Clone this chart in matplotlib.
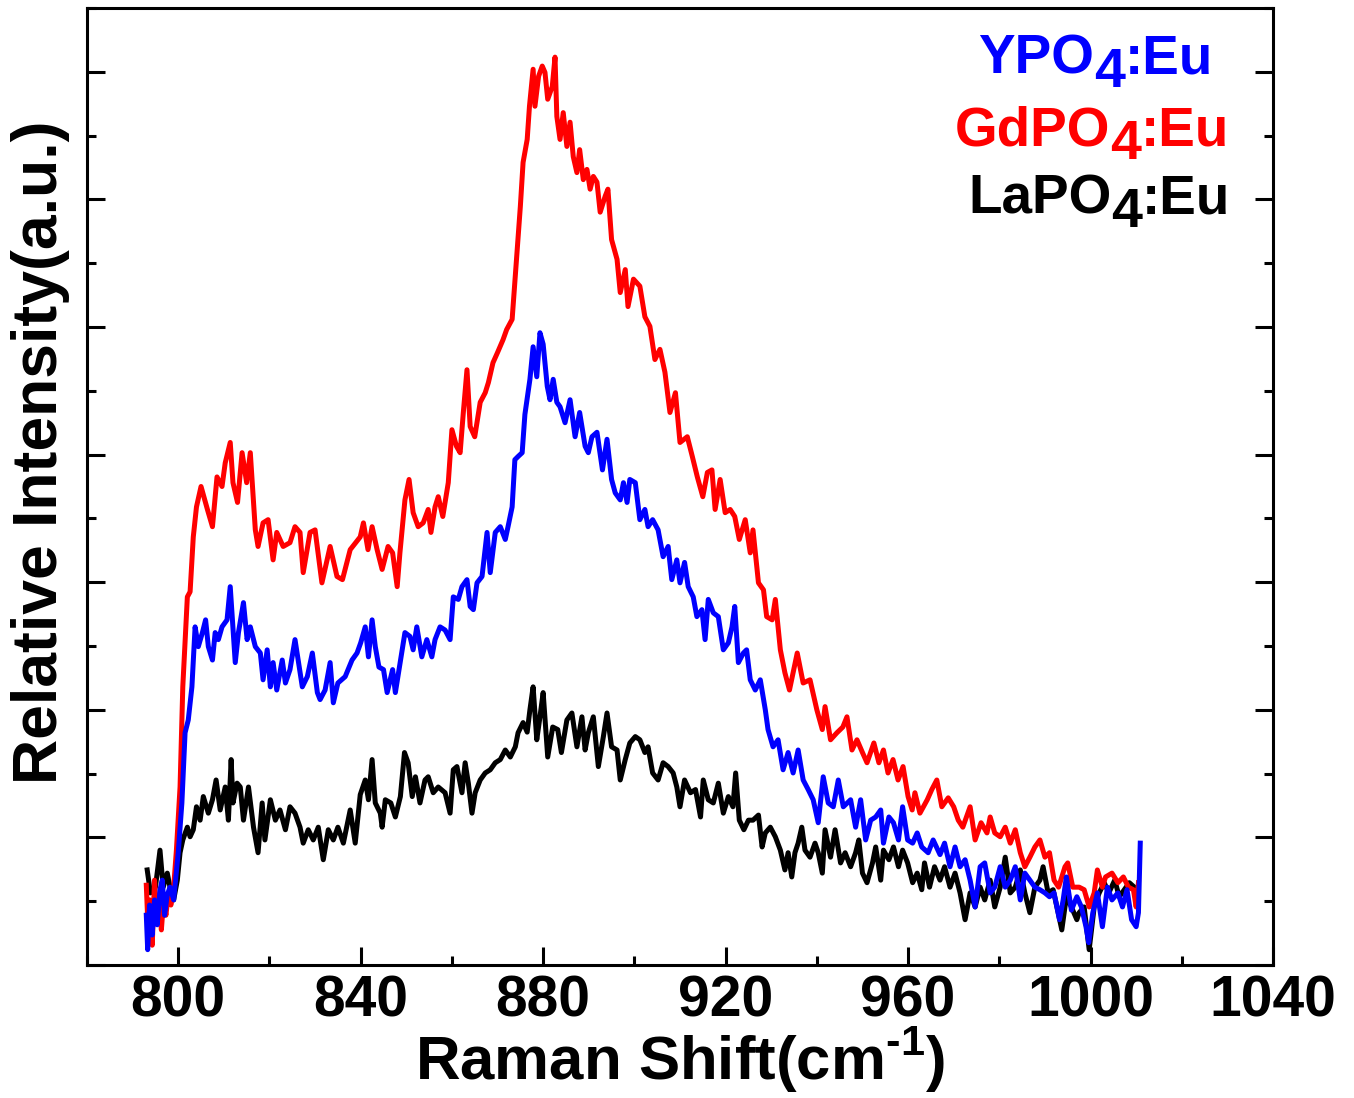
import matplotlib
matplotlib.use("Agg")
import matplotlib.pyplot as plt
from matplotlib.ticker import MultipleLocator

plt.rcParams['font.family'] = ['Liberation Sans', 'DejaVu Sans']
plt.rcParams['font.weight'] = 'bold'
plt.rcParams['mathtext.fontset'] = 'custom'
plt.rcParams['mathtext.rm'] = 'Liberation Sans:bold'
plt.rcParams['mathtext.bf'] = 'Liberation Sans:bold'

# Raman spectra: (wavenumber cm-1, relative intensity a.u.)
gdpo4_pts = [
    (793.0,1.25),(793.4,0.55),(793.8,1.02),(794.3,0.31),(794.8,1.33),(795.3,0.71),(795.8,1.10),(796.3,0.55),
    (796.8,1.02),(797.3,0.78),(797.8,1.10),(798.4,0.94),(799.0,1.22),(799.6,1.80),(800.4,2.79),(801.0,4.36),
    (802.0,5.77),(802.6,5.85),(803.3,6.71),(804.0,7.18),(805.0,7.50),(806.4,7.14),(807.5,6.87),(808.5,7.65),
    (809.6,7.50),(810.3,7.87),(811.4,8.19),(812.0,7.56),(813.0,7.25),(814.0,8.03),(815.0,7.56),(815.8,8.03),
    (816.9,6.82),(817.5,6.56),(818.6,6.93),(819.7,6.98),(820.8,6.35),(821.6,6.78),(823.0,6.56),(824.5,6.62),
    (825.6,6.87),(826.7,6.78),(827.4,6.15),(828.9,6.78),(830.0,6.82),(831.5,5.99),(833.3,6.56),(834.8,6.09),
    (836.0,6.04),(837.7,6.51),(839.9,6.71),(840.6,6.93),(841.6,6.51),(842.5,6.87),(843.6,6.51),(844.7,6.20),
    (846.0,6.56),(847.0,6.46),(848.0,5.93),(848.6,6.46),(849.7,7.29),(850.6,7.61),(851.5,7.09),(852.6,6.87),
    (853.7,6.93),(854.8,7.14),(855.4,6.78),(856.3,7.18),(857.0,7.34),(858.0,7.03),(859.2,7.56),(860.0,8.39),
    (861.0,8.13),(861.8,8.03),(862.5,8.66),(863.3,9.33),(864.0,8.44),(865.0,8.28),(866.2,8.82),(867.3,8.97),
    (868.0,9.13),(869.0,9.44),(870.0,9.60),(871.2,9.80),(872.0,9.96),(873.2,10.12),(874.0,10.90),(875.0,11.89),
    (875.6,12.58),(876.5,12.94),(877.0,13.46),(877.8,14.04),(878.2,13.46),(879.0,13.93),(879.8,14.09),(880.4,13.99),
    (881.0,13.57),(882.0,13.77),(882.6,14.23),(883.0,13.30),(883.7,12.94),(884.4,13.36),(885.2,12.83),(885.9,13.21),
    (886.6,12.67),(887.4,12.42),(888.0,12.78),(888.8,12.31),(889.6,12.47),(890.3,12.16),(891.0,12.36),(891.8,12.27),
    (892.5,11.80),(893.6,12.05),(894.2,12.16),(895.0,11.37),(896.2,11.06),(896.9,10.54),(898.0,10.90),(898.6,10.32),
    (899.8,10.75),(901.2,10.64),(902.3,10.16),(903.4,10.01),(904.5,9.49),(905.6,9.65),(906.7,9.29),(907.8,8.66),
    (909.0,8.97),(910.0,8.19),(911.6,8.28),(912.7,7.97),(913.8,7.65),(915.0,7.34),(916.0,7.72),(917.0,7.76),
    (917.7,7.14),(918.8,7.61),(919.9,7.09),(921.0,7.14),(922.0,7.03),(923.0,6.67),(924.3,6.98),(925.4,6.46),
    (926.0,6.82),(927.2,5.99),(928.3,5.88),(929.0,5.46),(930.2,5.41),(930.9,5.73),(932.0,4.94),(933.0,4.58),
    (934.0,4.31),(935.7,4.89),(937.0,4.42),(938.5,4.47),(940.0,4.00),(941.2,3.69),(941.8,4.05),(943.0,3.53),
    (944.4,3.64),(945.7,3.73),(946.6,3.89),(947.7,3.37),(948.8,3.53),(950.0,3.33),(951.0,3.17),(952.5,3.48),
    (953.6,3.17),(954.6,3.37),(955.6,3.01),(956.7,3.22),(957.8,2.90),(958.9,3.11),(960.0,2.64),(960.9,2.43),
    (961.5,2.70),(962.6,2.38),(964.2,2.59),(965.2,2.75),(966.3,2.90),(967.4,2.48),(968.8,2.62),(970.0,2.48),
    (971.0,2.27),(972.0,2.16),(973.6,2.48),(974.7,1.96),(976.0,2.23),(977.3,2.07),(978.0,2.32),(979.0,2.07),
    (980.2,2.01),(981.3,2.16),(982.4,1.91),(983.5,2.12),(984.6,1.76),(985.6,1.54),(986.7,1.69),(987.8,1.85),
    (988.9,1.96),(990.0,1.69),(991.0,1.76),(992.0,1.33),(993.0,1.22),(994.4,1.54),(995.0,1.60),(996.1,1.22),
    (997.5,1.22),(998.6,1.18),(999.7,0.91),(1000.8,1.13),(1001.5,1.49),(1002.6,1.22),(1003.3,1.38),(1004.7,1.44),
    (1006.0,1.29),(1007.2,1.38),(1008.3,1.22),(1009.4,1.18),(1010.0,0.91),(1010.5,1.29),
]

ypo4_pts = [
    (793.0,0.78),(793.3,0.24),(793.7,0.94),(794.3,0.47),(794.8,1.02),(795.4,0.63),(796.0,1.18),(796.5,1.33),
    (797.0,0.78),(797.6,1.10),(798.2,1.22),(799.0,1.02),(800.0,1.76),(800.8,2.54),(801.5,3.64),(802.2,3.84),
    (803.0,4.36),(803.7,5.30),(804.4,4.99),(805.3,5.21),(806.0,5.41),(806.6,4.99),(807.5,4.78),(808.1,5.21),
    (808.8,5.10),(809.6,5.30),(810.7,5.41),(811.4,5.93),(812.5,4.74),(813.2,5.21),(814.3,5.68),(815.1,5.10),
    (815.8,5.30),(816.9,4.99),(818.0,4.89),(818.6,4.47),(819.5,4.94),(820.2,4.36),(820.8,4.74),(821.6,4.31),
    (822.8,4.78),(823.5,4.42),(824.5,4.63),(825.6,5.10),(826.3,4.78),(827.2,4.36),(828.3,4.52),(829.4,4.89),
    (830.5,4.27),(831.1,4.16),(832.2,4.31),(833.3,4.74),(834.0,4.11),(835.0,4.42),(836.6,4.52),(838.1,4.78),
    (839.2,4.89),(840.0,5.05),(841.0,5.30),(841.7,4.83),(842.5,5.41),(843.2,4.99),(844.0,4.67),(845.0,4.63),
    (845.8,4.27),(847.0,4.63),(847.6,4.27),(848.3,4.58),(849.0,4.89),(849.7,5.21),(850.8,5.15),(851.5,4.94),
    (852.3,5.30),(853.4,4.83),(854.5,5.10),(855.6,4.83),(856.3,5.10),(857.4,5.30),(858.5,5.25),(859.6,5.10),
    (860.3,5.77),(861.4,5.73),(862.2,5.93),(863.3,6.04),(864.0,5.62),(864.7,5.57),(865.5,5.99),(866.6,6.09),
    (867.7,6.78),(868.4,6.15),(869.5,6.78),(870.6,6.87),(871.7,6.67),(872.3,6.87),(873.2,7.18),(873.8,7.92),
    (874.5,7.97),(875.4,8.03),(876.0,8.63),(877.1,9.18),(877.8,9.69),(878.6,9.22),(879.3,9.91),(880.0,9.73),
    (880.9,9.07),(881.5,8.86),(882.2,9.18),(883.0,8.82),(883.7,8.75),(884.8,8.50),(885.9,8.86),(887.0,8.28),
    (888.0,8.66),(889.2,8.13),(889.9,8.03),(890.7,8.28),(891.8,8.35),(893.0,7.76),(894.0,8.24),(895.0,7.61),
    (895.8,7.40),(896.9,7.29),(897.6,7.56),(898.4,7.25),(899.0,7.61),(900.2,7.56),(901.2,6.98),(902.3,7.14),
    (903.0,6.87),(904.0,6.98),(905.2,6.82),(906.3,6.40),(907.4,6.56),(908.2,6.04),(909.3,6.35),(910.0,5.99),
    (911.0,6.31),(911.8,5.93),(912.9,5.77),(913.7,5.46),(914.8,5.57),(915.5,5.10),(916.2,5.73),(917.3,5.52),
    (918.4,5.46),(919.5,4.94),(920.6,5.05),(921.4,5.30),(922.0,5.62),(922.8,4.74),(923.9,4.89),(924.6,4.94),
    (925.4,4.47),(926.5,4.31),(927.6,4.47),(928.7,4.00),(929.3,3.69),(930.4,3.42),(931.5,3.53),(932.6,3.06),
    (933.7,3.33),(934.8,3.01),(935.9,3.37),(937.0,2.90),(938.1,2.75),(939.2,2.59),(940.3,2.23),(941.4,2.95),
    (942.5,2.54),(943.6,2.48),(944.7,2.90),(945.8,2.48),(947.4,2.59),(948.5,2.16),(949.6,2.59),(950.7,1.96),
    (951.8,2.27),(952.9,2.32),(954.0,2.43),(954.6,1.91),(955.8,2.32),(956.8,2.23),(957.9,1.96),(958.8,2.48),
    (959.9,1.96),(961.0,1.91),(962.0,2.07),(963.0,1.85),(964.4,1.76),(965.5,1.96),(967.0,1.73),(968.0,1.91),
    (969.2,1.54),(970.3,1.85),(971.4,1.54),(972.5,1.65),(973.6,1.33),(974.7,0.91),(975.8,1.54),(976.8,1.60),
    (978.0,1.13),(979.0,1.22),(980.2,1.54),(981.3,1.22),(982.4,1.33),(983.5,1.54),(984.6,1.02),(985.6,1.44),
    (986.7,1.33),(987.8,1.22),(988.9,1.18),(990.0,1.13),(991.0,1.07),(992.0,1.13),(993.2,0.71),(994.0,1.02),
    (994.7,1.38),(995.8,0.86),(997.0,1.07),(998.0,0.91),(999.0,0.60),(999.6,0.35),(1000.5,0.82),(1001.5,1.13),
    (1002.6,0.60),(1003.7,1.22),(1004.7,1.02),(1006.0,1.13),(1007.0,0.91),(1008.0,1.18),(1009.0,0.71),(1010.0,0.60),
    (1010.5,0.82),(1010.9,1.91),
]

lapo4_pts = [
    (793.2,1.49),(793.9,1.13),(795.0,1.22),(796.0,1.80),(796.7,1.22),(797.6,1.44),(798.2,1.22),(799.0,1.02),
    (799.8,1.33),(800.4,1.76),(801.0,1.96),(802.0,2.16),(802.6,2.01),(803.3,2.12),(804.0,2.48),(804.8,2.27),
    (805.5,2.64),(806.6,2.38),(807.5,2.59),(808.3,2.90),(809.2,2.43),(810.3,2.79),(811.0,2.27),(811.6,3.22),
    (812.0,2.54),(812.9,2.85),(813.6,2.79),(814.3,2.27),(815.4,2.79),(816.5,2.16),(817.5,1.76),(818.4,2.54),
    (819.0,1.96),(820.2,2.59),(821.3,2.27),(822.3,2.43),(823.5,2.12),(824.5,2.48),(825.6,2.38),(826.7,2.16),
    (827.4,1.91),(828.5,2.12),(829.6,1.96),(830.7,2.16),(831.8,1.65),(832.9,2.12),(834.0,1.96),(835.0,2.16),
    (836.2,1.91),(837.7,2.43),(838.8,1.91),(839.9,2.67),(841.0,2.90),(841.7,2.59),(842.5,3.22),(843.2,2.54),
    (844.3,2.38),(844.7,2.16),(845.4,2.59),(846.6,2.54),(847.6,2.32),(848.7,2.64),(849.6,3.33),(850.4,3.17),
    (851.3,2.64),(852.0,2.95),(853.0,2.54),(854.1,2.90),(854.8,2.95),(855.9,2.70),(857.0,2.79),(858.5,2.70),
    (859.6,2.38),(860.3,3.06),(861.1,3.11),(862.2,2.70),(862.9,3.17),(863.6,2.85),(864.4,2.38),(865.1,2.70),
    (866.2,2.90),(867.3,3.01),(868.4,3.06),(869.5,3.17),(870.6,3.22),(871.7,3.37),(872.8,3.26),(873.9,3.42),
    (874.5,3.64),(875.6,3.80),(876.5,3.65),(877.1,4.00),(877.8,4.36),(878.6,3.53),(879.3,3.89),(880.0,4.27),
    (881.0,3.26),(882.1,3.73),(883.2,3.69),(884.0,3.33),(885.2,3.84),(886.3,3.95),(887.4,3.42),(888.5,3.89),
    (889.2,3.37),(889.9,3.64),(891.0,3.89),(892.1,3.11),(893.2,3.58),(894.0,3.95),(895.0,3.42),(896.2,3.37),
    (896.9,2.90),(898.0,3.22),(899.0,3.48),(900.2,3.58),(901.2,3.53),(902.3,3.33),(903.0,3.42),(904.0,3.01),
    (905.2,2.90),(906.3,3.17),(907.4,3.11),(908.5,3.01),(909.3,2.79),(910.0,2.48),(911.0,2.90),(912.3,2.70),
    (913.4,2.75),(914.5,2.32),(915.1,2.90),(916.2,2.59),(917.3,2.54),(918.4,2.85),(919.5,2.38),(920.6,2.64),
    (921.6,2.48),(922.2,3.01),(923.0,2.27),(924.0,2.12),(925.0,2.27),(926.0,2.27),(927.2,2.35),(928.0,1.85),
    (928.7,2.07),(929.8,2.16),(930.9,2.01),(932.0,1.80),(933.0,1.49),(933.7,1.76),(934.5,1.38),(935.2,1.76),
    (935.9,1.91),(936.7,2.16),(937.4,1.80),(938.5,1.69),(939.6,1.91),(940.3,1.76),(941.2,1.44),(941.8,2.12),
    (943.0,1.69),(944.0,2.12),(945.2,1.60),(946.2,1.76),(947.4,1.54),(948.5,1.76),(949.2,1.96),(950.0,1.44),
    (951.0,1.29),(952.2,1.60),(952.9,1.85),(954.0,1.33),(954.6,1.80),(955.8,1.65),(956.8,1.85),(957.9,1.54),
    (958.8,1.80),(959.9,1.60),(961.0,1.29),(962.0,1.44),(963.0,1.18),(963.6,1.60),(964.7,1.22),(965.8,1.54),
    (967.0,1.33),(968.0,1.54),(969.2,1.22),(970.3,1.44),(971.4,1.13),(972.5,0.71),(973.6,1.13),(974.7,0.91),
    (975.8,1.22),(976.8,1.02),(978.0,1.33),(979.0,0.91),(980.2,1.22),(981.3,1.69),(982.4,1.13),(983.5,1.22),
    (984.6,1.49),(985.6,1.13),(986.7,0.82),(987.8,1.22),(988.9,1.33),(989.6,1.54),(990.7,1.13),(991.8,1.18),
    (992.9,0.82),(993.7,0.55),(994.7,1.07),(995.8,0.91),(997.0,0.71),(997.5,0.82),(998.6,0.91),(999.7,0.24),
    (1000.8,0.91),(1001.9,1.13),(1003.0,1.29),(1004.0,1.13),(1005.3,1.33),(1006.3,1.07),(1007.4,1.18),(1008.5,1.29),
    (1009.6,1.22),(1010.2,1.13),
]

W, H, DPI = 1354, 1098, 100
fig = plt.figure(figsize=(W / DPI, H / DPI), dpi=DPI)
ax = fig.add_axes([87 / W, 1 - 965 / H, (1273 - 87) / W, (965 - 8) / H])

# draw black first, blue last (blue sits on top in the original)
for pts, color in [(lapo4_pts, 'black'), (gdpo4_pts, 'red'), (ypo4_pts, 'blue')]:
    xs = [p[0] for p in pts]
    ys = [p[1] for p in pts]
    ax.plot(xs, ys, color=color, lw=3.6, solid_joinstyle='round')

ax.set_xlim(780, 1040)
ax.set_ylim(0, 15)
ax.xaxis.set_major_locator(MultipleLocator(40))
ax.xaxis.set_minor_locator(MultipleLocator(20))
ax.yaxis.set_major_locator(MultipleLocator(2))
ax.yaxis.set_minor_locator(MultipleLocator(1))
ax.tick_params(which='both', direction='in', right=True, top=False, width=2.2,
               labelleft=False, labelsize=41, pad=7)
ax.tick_params(which='major', length=13)
ax.tick_params(which='minor', length=6.5)
for s in ax.spines.values():
    s.set_linewidth(2.2)

ax.set_xlabel(r'Raman Shift(cm$^{\text{-1}}$)', fontsize=44.5, fontweight='bold', va='center')
ax.xaxis.set_label_coords(0.5, -0.099)
ax.set_ylabel('Relative Intensity(a.u.)', fontsize=45, fontweight='bold', va='center')
ax.yaxis.set_label_coords(-0.0396, 0.536)

# legend-like labels with the oversized, lowered "4"
renderer = fig.canvas.get_renderer()
labels = [
    ('YP', 'O', 978, 73, 'blue'),
    ('GdP', 'O', 955, 145, 'red'),
    ('LaP', 'O', 968, 213, 'black'),
]
for head, o, x0, base, color in labels:
    x = x0
    for piece, dy, size in [(head + o, 0, 39.5), ('4', 14, 40), (':Eu', 0, 39.5)]:
        t = fig.text(x / W, 1 - (base + dy) / H, piece, color=color, fontsize=size,
                     fontweight='bold', ha='left', va='baseline')
        x += t.get_window_extent(renderer=renderer).width

fig.savefig('out.png', dpi=DPI)
